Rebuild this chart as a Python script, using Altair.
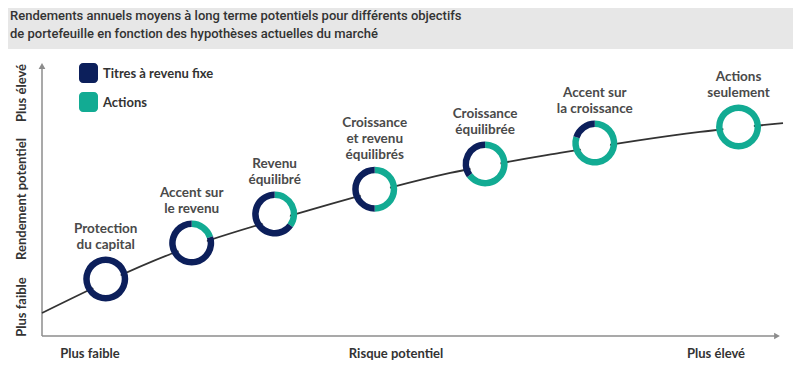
import altair as alt
import pandas as pd

# ---- données ----
portefeuilles = [
    "Protection du capital", "Accent sur le revenu", "Revenu équilibré",
    "Croissance et revenu équilibrés", "Croissance équilibrée",
    "Accent sur la croissance", "Actions seulement",
]
etiquettes = [
    "Protection\ndu capital", "Accent sur\nle revenu", "Revenu\néquilibré",
    "Croissance\net revenu\néquilibrés", "Croissance\néquilibrée",
    "Accent sur\nla croissance", "Actions\nseulement",
]
risque = [8.6, 20.2, 31.4, 44.9, 59.8, 74.6, 94.0]
rendement = [20.8, 33.9, 44.5, 53.6, 62.8, 70.4, 76.3]
actions_pct = [0, 20, 35, 50, 65, 80, 100]

courbe_risque = [0, 17.7, 36.2, 55.1, 69.9, 88.8, 100]
courbe_rendement = [8.4, 30.3, 46.0, 59.5, 66.8, 74.5, 77.7]

series = ["Titres à revenu fixe", "Actions"]
couleurs = ["#0c1f5b", "#12ab93"]

titre = [
    "Rendements annuels moyens à long terme potentiels pour différents objectifs",
    "de portefeuille en fonction des hypothèses actuelles du marché",
]
axe_y = ["Plus faible", "Rendement potentiel", "Plus élevé"]
axe_x = ["Plus faible", "Risque potentiel", "Plus élevé"]

# ---- tables ----
W, H = 785, 352
xs = alt.Scale(domain=[0, 100], range=[34, 775])
ys = alt.Scale(domain=[0, 100], range=[328, 54])
cs = alt.Scale(domain=series, range=couleurs)

pts = pd.DataFrame({"portefeuille": portefeuilles, "etiquette": etiquettes,
                    "risque": risque, "rendement": rendement})
rows = []
for p, r, y, a in zip(portefeuilles, risque, rendement, actions_pct):
    rows.append({"portefeuille": p, "risque": r, "rendement": y,
                 "serie": "Actions", "ordre": 0, "pct": a})
    rows.append({"portefeuille": p, "risque": r, "rendement": y,
                 "serie": "Titres à revenu fixe", "ordre": 1, "pct": 100 - a})
arcs_df = pd.DataFrame(rows)
courbe = pd.DataFrame({"risque": courbe_risque, "rendement": courbe_rendement})
one = pd.DataFrame({"k": [0]})

X = alt.X("risque:Q", scale=xs, axis=None)
Y = alt.Y("rendement:Q", scale=ys, axis=None)

TXT = "#333333"
LAB = "#4a4a4a"
AX = "#8c8c8c"

bg = alt.Chart(one).mark_rect(color="#e7e7e7").encode(
    x=alt.value(0), x2=alt.value(W), y=alt.value(0), y2=alt.value(41))
title = alt.Chart(one).mark_text(
    text=titre, align="left", baseline="alphabetic", lineHeight=18.5,
    font="Roboto", fontSize=13, fontWeight=500, color=TXT,
).encode(x=alt.value(2), y=alt.value(11.5))

yaxis = alt.Chart(one).mark_rule(color=AX, strokeWidth=1.5).encode(
    x=alt.value(34), y=alt.value(328), y2=alt.value(58))
xaxis = alt.Chart(one).mark_rule(color=AX, strokeWidth=1.5).encode(
    x=alt.value(34), x2=alt.value(768), y=alt.value(328))
yarrow = alt.Chart(one).mark_point(shape="triangle-up", filled=True, color=AX,
                                   opacity=1, size=45).encode(
    x=alt.value(34), y=alt.value(58))
xarrow = alt.Chart(one).mark_point(shape="triangle-right", filled=True, color=AX,
                                   opacity=1, size=45).encode(
    x=alt.value(769), y=alt.value(328))

ylab_pos = [299, 191, 85]
ylabs = [alt.Chart(one).mark_text(text=t, angle=270, align="center", baseline="middle",
                                  font="Lato", fontSize=13, fontWeight="bold", color=TXT)
         .encode(x=alt.value(14), y=alt.value(p)) for t, p in zip(axe_y, ylab_pos)]
xlab_pos = [82, 388, 708]
xlabs = [alt.Chart(one).mark_text(text=t, align="center", baseline="middle",
                                  font="Lato", fontSize=13, fontWeight="bold", color=TXT)
         .encode(x=alt.value(p), y=alt.value(346)) for t, p in zip(axe_x, xlab_pos)]

legend = []
for i, s in enumerate(series):
    d = pd.DataFrame({"serie": [s]})
    legend.append(alt.Chart(d).mark_rect(cornerRadius=4).encode(
        x=alt.value(71), x2=alt.value(90), y=alt.value(55 + 29 * i), y2=alt.value(75 + 29 * i),
        color=alt.Color("serie:N", scale=cs, legend=None)))
    legend.append(alt.Chart(d).mark_text(align="left", baseline="middle", font="Lato",
                                         fontSize=13, fontWeight="bold", color=TXT).encode(
        x=alt.value(95), y=alt.value(66 + 29 * i), text="serie:N"))

line = alt.Chart(courbe).mark_line(color="#333333", strokeWidth=1.8,
                                   interpolate="monotone").encode(x=X, y=Y)
holes = alt.Chart(pts).mark_point(filled=True, color="white", opacity=1,
                                  size=950, shape="circle").encode(x=X, y=Y)
donuts = alt.Chart(arcs_df).transform_filter("datum.pct > 0").transform_window(
    cum="sum(pct)", groupby=["portefeuille"], sort=[alt.SortField("ordre")], frame=[None, 0]
).transform_calculate(debut="datum.cum - datum.pct").mark_arc(
    innerRadius=16, outerRadius=22.5).encode(
    x=X, y=Y,
    theta=alt.Theta("debut:Q", scale=alt.Scale(domain=[0, 100])),
    theta2="cum:Q",
    color=alt.Color("serie:N", scale=cs, legend=None))

lab_base = alt.Chart(pts).transform_calculate(
    nlignes="length(split(datum.etiquette, '\\n'))")
lab2 = lab_base.transform_filter("datum.nlignes == 2").mark_text(
    lineBreak="\n", align="center", baseline="top", dy=-57, lineHeight=16,
    font="Lato", fontSize=13.5, fontWeight="bold", color=LAB).encode(x=X, y=Y, text="etiquette:N")
lab3 = lab_base.transform_filter("datum.nlignes == 3").mark_text(
    lineBreak="\n", align="center", baseline="top", dy=-73, lineHeight=16,
    font="Lato", fontSize=13.5, fontWeight="bold", color=LAB).encode(x=X, y=Y, text="etiquette:N")

chart = alt.layer(bg, title, yaxis, xaxis, yarrow, xarrow, *ylabs, *xlabs, *legend,
                  line, holes, donuts, lab2, lab3).properties(
    width=W, height=H, padding=0, autosize=alt.AutoSizeParams(type="none")
).configure_view(stroke=None)

chart.save("out.html", embed_options={"renderer": "svg", "actions": False})
